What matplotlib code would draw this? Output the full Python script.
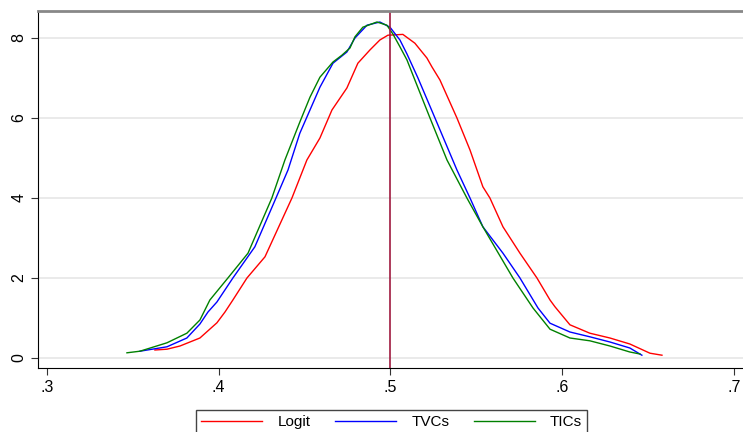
import matplotlib
matplotlib.use("Agg")
import matplotlib.pyplot as plt
from matplotlib.ticker import FuncFormatter

plt.rcParams['font.family'] = ['Liberation Sans', 'DejaVu Sans']

# kernel density curves
logit_x = [0.3629, 0.3699, 0.3775, 0.3891, 0.3990, 0.4037, 0.4083, 0.4165, 0.4270,
           0.4427, 0.4514, 0.4590, 0.4660, 0.4747, 0.4811, 0.4881, 0.4939, 0.4986,
           0.5073, 0.5143, 0.5213, 0.5242, 0.5289, 0.5388, 0.5464,
           0.5539, 0.5580, 0.5656, 0.5755, 0.5854, 0.5930, 0.5959, 0.6046, 0.6162,
           0.6279, 0.6395, 0.6512, 0.6582]
logit_y = [0.20, 0.22, 0.30, 0.50, 0.88, 1.15, 1.45, 2.00, 2.53,
           4.00, 4.95, 5.50, 6.20, 6.75, 7.37, 7.70, 7.95, 8.07,
           8.09, 7.87, 7.50, 7.28, 6.95, 6.00, 5.20,
           4.28, 4.00, 3.28, 2.62, 2.00, 1.45, 1.28, 0.83, 0.62,
           0.50, 0.35, 0.12, 0.07]

tvc_x = [0.3542, 0.3699, 0.3815, 0.3891, 0.3938, 0.3990, 0.4083, 0.4211, 0.4334,
         0.4404, 0.4473, 0.4532, 0.4590, 0.4666, 0.4747, 0.4794, 0.4864, 0.4939,
         0.4998, 0.5056, 0.5097, 0.5161, 0.5260, 0.5388, 0.5464, 0.5539, 0.5656,
         0.5755, 0.5860, 0.5930, 0.6046, 0.6162, 0.6279, 0.6395, 0.6465]
tvc_y = [0.17, 0.28, 0.50, 0.85, 1.15, 1.40, 2.00, 2.78, 4.00,
         4.70, 5.62, 6.20, 6.77, 7.37, 7.65, 8.00, 8.32, 8.40,
         8.27, 7.95, 7.60, 7.00, 6.00, 4.70, 4.00, 3.28, 2.62,
         2.00, 1.25, 0.87, 0.65, 0.53, 0.40, 0.25, 0.07]

tic_x = [0.3466, 0.3542, 0.3699, 0.3815, 0.3891, 0.3949, 0.4054, 0.4171, 0.4310,
         0.4386, 0.4473, 0.4532, 0.4590, 0.4666, 0.4718, 0.4765, 0.4794, 0.4840,
         0.4922, 0.4980, 0.5015, 0.5056, 0.5097, 0.5143, 0.5231, 0.5330, 0.5446,
         0.5539, 0.5714, 0.5831, 0.5930, 0.6046, 0.6162, 0.6279, 0.6395, 0.6454]
tic_y = [0.13, 0.17, 0.38, 0.62, 0.95, 1.45, 2.00, 2.62, 4.00,
         4.95, 5.90, 6.52, 7.02, 7.40, 7.57, 7.75, 8.03, 8.27,
         8.40, 8.32, 8.10, 7.78, 7.45, 6.95, 6.00, 4.95, 4.00,
         3.28, 2.00, 1.25, 0.72, 0.50, 0.43, 0.30, 0.15, 0.10]

x_ticks = [0.3, 0.4, 0.5, 0.6, 0.7]
y_ticks = [0, 2, 4, 6, 8]
ref_x = 0.5

fig = plt.figure(figsize=(7.43, 4.32), dpi=100)
ax = fig.add_axes([38 / 743, 1 - 368 / 432, 705 / 743, 357 / 432])

ax.plot(logit_x, logit_y, color='#ff0000', lw=1.0, label='Logit')
ax.plot(tvc_x, tvc_y, color='#0000ff', lw=1.0, label='TVCs')
ax.plot(tic_x, tic_y, color='#008000', lw=1.0, label='TICs')
ax.axvline(ref_x, color='#a01a40', lw=1.2)

ax.set_xlim(0.2948, 0.7054)
ax.set_ylim(-0.25, 8.675)
ax.set_xticks(x_ticks)
ax.set_yticks(y_ticks)
ax.xaxis.set_major_formatter(FuncFormatter(lambda v, p: ('%.1f' % v).lstrip('0')))
ax.grid(axis='y', color='#e6e6e6', lw=1.2)
ax.set_axisbelow(True)
ax.tick_params(axis='both', direction='out', length=5, width=0.8, labelsize=11.5, color='#333333')
for lab in ax.get_yticklabels():
    lab.set_rotation(90)
    lab.set_va('center')

ax.spines['left'].set_color('black')
ax.spines['bottom'].set_color('black')
ax.spines['top'].set_color('#888888')
ax.spines['top'].set_linewidth(2)
ax.spines['right'].set_visible(False)

fig.legend(loc='upper center', bbox_to_anchor=(0.527, 1 - 402 / 432), ncol=3,
           fontsize=11, handlelength=4.0, handletextpad=1.0, columnspacing=1.6,
           frameon=True, fancybox=False, edgecolor='#444444', framealpha=1,
           borderpad=0.35)

fig.savefig('out.png', dpi=100)
